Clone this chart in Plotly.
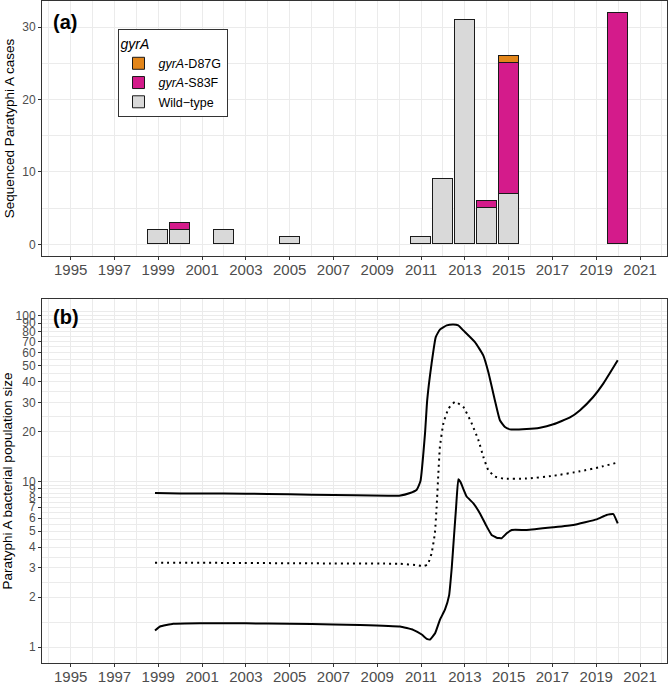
import plotly.graph_objects as go
from plotly.subplots import make_subplots

# ---------------- Panel (a) data ----------------
years_a = [1999, 2000, 2002, 2005, 2011, 2012, 2013, 2014, 2015, 2020]
wild_type = [2, 2, 2, 1, 1, 9, 31, 5, 7, None]
gyrA_S83F = [None, 1, None, None, None, None, None, 1, 18, 32]
gyrA_D87G = [None, None, None, None, None, None, None, None, 1, None]

# ---------------- Panel (b) data ----------------
upper_t = [1998.85, 2000, 2002, 2004, 2006, 2008, 2009.5, 2010.0, 2010.5, 2010.8, 2010.97,
           2011.18, 2011.28, 2011.48, 2011.67, 2011.86, 2012.17, 2012.47, 2012.70, 2012.93,
           2013.46, 2013.84, 2014.07, 2014.37, 2014.60, 2014.83, 2015.06, 2015.82, 2016.43,
           2017.04, 2017.80, 2018.26, 2018.86, 2019.32, 2019.98]
upper_v = [8.5, 8.45, 8.45, 8.4, 8.3, 8.25, 8.2, 8.2, 8.5, 8.9, 10.0,
           19.5, 30.9, 51.4, 74.3, 82.4, 87.4, 88.6, 87.4, 81.5,
           69.3, 57.6, 45.7, 30.9, 23.4, 21.3, 20.6, 20.7, 21.1,
           22.1, 24.3, 26.9, 32.3, 38.9, 53.8]

median_t = [1998.85, 2002, 2006, 2010.04, 2010.8, 2011.1, 2011.3, 2011.48, 2011.63, 2011.71,
            2011.79, 2011.86, 2012.02, 2012.25, 2012.55, 2012.93, 2013.31, 2013.62, 2013.84,
            2014.07, 2014.37, 2014.75, 2015.82, 2017.04, 2018.26, 2019.17, 2019.98]
median_v = [3.23, 3.22, 3.2, 3.18, 3.12, 3.08, 3.15, 3.68, 4.86, 7.0,
            11.2, 16.2, 22.4, 27.5, 30.2, 28.1, 22.4, 17.7, 14.1,
            11.7, 10.7, 10.4, 10.4, 10.8, 11.5, 12.2, 13.0]

lower_t = [1998.85, 1999.08, 1999.68, 2000.9, 2003, 2005, 2007, 2008.21, 2010.04, 2010.64,
           2011.03, 2011.26, 2011.41, 2011.64, 2011.86, 2012.09, 2012.28, 2012.40, 2012.50,
           2012.60, 2012.70, 2012.80, 2013.08, 2013.39, 2013.69, 2014.0, 2014.22, 2014.45,
           2014.68, 2014.91, 2015.14, 2015.82, 2017.04, 2017.95, 2019.02, 2019.47, 2019.78,
           2019.98]
lower_v = [1.26, 1.33, 1.38, 1.39, 1.39, 1.38, 1.37, 1.36, 1.33, 1.27,
           1.19, 1.12, 1.11, 1.21, 1.46, 1.68, 2.05, 3.0, 4.6,
           7.0, 10.3, 9.9, 8.1, 7.37, 6.4, 5.33, 4.75, 4.57,
           4.54, 4.86, 5.09, 5.09, 5.28, 5.45, 5.9, 6.27, 6.35,
           5.58]

x_major = list(range(1995, 2022, 2))
x_minor = list(range(1994, 2023, 2))
ya_major = [0, 10, 20, 30]
ya_minor = [5, 15, 25]
yb_ticks = [1, 2, 3, 4, 5, 6, 7, 8, 9, 10, 20, 30, 40, 50, 60, 70, 80, 90, 100]
yb_minor = [1.414, 2.449, 3.464, 4.472, 5.477, 6.481, 7.483, 8.485, 9.487,
            14.14, 24.49, 34.64, 44.72, 54.77, 64.81, 74.83, 84.85, 94.87, 105.4]

COL_D87G = "#E3861A"
COL_S83F = "#D41B8B"
COL_WT = "#D9D9D9"
GRID = "#EBEBEB"
AXC = "#333333"
TXT = "#4D4D4D"
FONT = "Liberation Sans, Arial, sans-serif"

fig = make_subplots(rows=2, cols=1)

fig.add_trace(go.Bar(x=years_a, y=wild_type, name="Wild\u2212type", width=0.9,
                     marker=dict(color=COL_WT, line=dict(color="#1a1a1a", width=1)),
                     legendrank=3), row=1, col=1)
fig.add_trace(go.Bar(x=years_a, y=gyrA_S83F, name="<i>gyrA</i>-S83F", width=0.9,
                     marker=dict(color=COL_S83F, line=dict(color="#1a1a1a", width=1)),
                     legendrank=2), row=1, col=1)
fig.add_trace(go.Bar(x=years_a, y=gyrA_D87G, name="<i>gyrA</i>-D87G", width=0.9,
                     marker=dict(color=COL_D87G, line=dict(color="#1a1a1a", width=1)),
                     legendrank=1), row=1, col=1)

fig.add_trace(go.Scatter(x=upper_t, y=upper_v, mode="lines", showlegend=False,
                         line=dict(color="black", width=2, shape="spline", smoothing=0.4)),
              row=2, col=1)
fig.add_trace(go.Scatter(x=median_t, y=median_v, mode="lines", showlegend=False,
                         line=dict(color="black", width=2, dash="2px,4px", shape="spline", smoothing=0.4)),
              row=2, col=1)
fig.add_trace(go.Scatter(x=lower_t, y=lower_v, mode="lines", showlegend=False,
                         line=dict(color="black", width=2, shape="spline", smoothing=0.3)),
              row=2, col=1)

xcommon = dict(range=[1993.69, 2022.23], tickvals=x_major, ticktext=[str(v) for v in x_major],
               showgrid=True, gridcolor=GRID, gridwidth=1,
               minor=dict(tickvals=x_minor, showgrid=True, gridcolor=GRID, gridwidth=1, ticklen=0),
               ticks="outside", ticklen=3, tickwidth=1, tickcolor=AXC,
               showline=True, linecolor=AXC, linewidth=1, mirror=True, automargin=False,
               ticklabelstandoff=-3,
               tickfont=dict(family=FONT, size=15, color=TXT), zeroline=False)

fig.update_layout(
    xaxis=dict(domain=[0, 1], anchor="y", **xcommon),
    xaxis2=dict(domain=[0, 1], anchor="y2", **xcommon),
    yaxis=dict(domain=[0.6148, 1.0], anchor="x", range=[-1.6, 33.6], tickvals=ya_major,
               showgrid=True, gridcolor=GRID, gridwidth=1,
               minor=dict(tickvals=ya_minor, showgrid=True, gridcolor=GRID, gridwidth=1, ticklen=0),
               ticks="outside", ticklen=3, tickwidth=1, tickcolor=AXC,
               showline=True, linecolor=AXC, linewidth=1, mirror=True, zeroline=False,
               automargin=False,
               tickfont=dict(family=FONT, size=12, color=TXT),
               title=dict(text="Sequenced Paratyphi A cases", standoff=4,
                          font=dict(family=FONT, size=13.5, color="black"))),
    yaxis2=dict(domain=[0, 0.5498], anchor="x2", type="log", range=[-0.0964, 2.1006],
                tickvals=yb_ticks, ticktext=[str(v) for v in yb_ticks],
                showgrid=True, gridcolor=GRID, gridwidth=1,
                minor=dict(tickvals=yb_minor, showgrid=True, gridcolor=GRID, gridwidth=1, ticklen=0),
                ticks="outside", ticklen=3, tickwidth=1, tickcolor=AXC,
                showline=True, linecolor=AXC, linewidth=1, mirror=True, zeroline=False,
                automargin=False,
                tickfont=dict(family=FONT, size=12, color=TXT),
                title=dict(text="Paratyphi A bacterial population size", standoff=4,
                           font=dict(family=FONT, size=13.5, color="black"))),
    barmode="stack",
    bargap=0,
    plot_bgcolor="white",
    paper_bgcolor="white",
    width=669, height=683,
    margin=dict(l=42, r=2, t=1, b=20, autoexpand=False),
    showlegend=True,
    legend=dict(x=0.1208, y=0.957, xanchor="left", yanchor="top",
                bgcolor="white", bordercolor=AXC, borderwidth=1,
                title=dict(text="<i>gyrA</i>", font=dict(family=FONT, size=14, color="black")),
                font=dict(family=FONT, size=12.5, color="black"),
                itemwidth=30,
                traceorder="normal", tracegroupgap=0),
    font=dict(family=FONT),
    annotations=[
        dict(text="<b>(a)</b>", xref="x domain", yref="y domain", x=0.014, y=0.97,
             xanchor="left", yanchor="top", showarrow=False,
             font=dict(family=FONT, size=20, color="black")),
        dict(text="<b>(b)</b>", xref="x2 domain", yref="y2 domain", x=0.014, y=0.985,
             xanchor="left", yanchor="top", showarrow=False,
             font=dict(family=FONT, size=20, color="black")),
    ],
)

fig.write_html("out.html",
               config={"displayModeBar": False},
               post_script="document.body.style.margin='0px';document.body.style.padding='0px';"
                           "document.body.style.overflow='hidden';")
